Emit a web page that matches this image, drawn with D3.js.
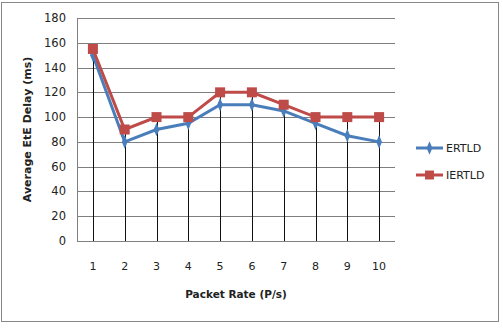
<!DOCTYPE html>
<html>
<head>
<meta charset="utf-8">
<script src="https://cdn.jsdelivr.net/npm/d3@7"></script>
<style>
  body { margin: 0; background: #fff; }
  text { font-family: "DejaVu Sans", Verdana, sans-serif; fill: #222; }
</style>
</head>
<body>
<div id="chart"></div>
<script>
// packet rate categories and series values (ms)
const categories = ["1", "2", "3", "4", "5", "6", "7", "8", "9", "10"];
const ertld = [150, 80, 90, 95, 110, 110, 105, 95, 85, 80];
const iertld = [155, 90, 100, 100, 120, 120, 110, 100, 100, 100];
const yTicks = [0, 20, 40, 60, 80, 100, 120, 140, 160, 180];

const width = 503, height = 328;
const margin = { left: 77, right: 108, top: 18, bottom: 87 };

const svg = d3.select("#chart").append("svg")
  .attr("width", width)
  .attr("height", height);

// chart frame
svg.append("rect")
  .attr("x", 1.5).attr("y", 2.5)
  .attr("width", 497).attr("height", 319)
  .attr("fill", "none")
  .attr("stroke", "#888");

const x = d3.scaleBand()
  .domain(categories)
  .range([margin.left, width - margin.right]);

const y = d3.scaleLinear()
  .domain([0, 180])
  .range([height - margin.bottom, margin.top]);

// horizontal gridlines
svg.append("g")
  .selectAll("line")
  .data(yTicks)
  .enter().append("line")
  .attr("x1", margin.left)
  .attr("x2", width - margin.right)
  .attr("y1", d => Math.round(y(d)) + 0.5)
  .attr("y2", d => Math.round(y(d)) + 0.5)
  .attr("stroke", "#7f7f7f")
  .attr("stroke-width", 1.2);

// left axis line
svg.append("line")
  .attr("x1", margin.left + 0.5).attr("x2", margin.left + 0.5)
  .attr("y1", y(180)).attr("y2", y(0))
  .attr("stroke", "#7f7f7f");

// y tick labels
svg.append("g")
  .attr("text-anchor", "end")
  .selectAll("text")
  .data(yTicks)
  .enter().append("text")
  .attr("x", 66)
  .attr("y", d => y(d))
  .attr("dy", "0.35em")
  .attr("font-size", 11.5)
  .text(d => d);

// drop lines
const cx = d => x(d) + x.bandwidth() / 2;
svg.append("g")
  .selectAll("line")
  .data(categories)
  .enter().append("line")
  .attr("x1", d => Math.round(cx(d)) + 0.5)
  .attr("x2", d => Math.round(cx(d)) + 0.5)
  .attr("y1", (d, i) => y(Math.max(ertld[i], iertld[i])))
  .attr("y2", y(0))
  .attr("stroke", "#111")
  .attr("stroke-width", 1);

// x tick labels
svg.append("g")
  .attr("text-anchor", "middle")
  .selectAll("text")
  .data(categories)
  .enter().append("text")
  .attr("x", d => cx(d))
  .attr("y", 270)
  .attr("font-size", 11)
  .text(d => d);

const line = d3.line()
  .x((d, i) => cx(categories[i]))
  .y(d => y(d));

const blue = "#4a7ebb", red = "#be4b48";

// ERTLD series
svg.append("path")
  .datum(ertld)
  .attr("d", line)
  .attr("fill", "none")
  .attr("stroke", blue)
  .attr("stroke-width", 3);

svg.append("g")
  .selectAll("path")
  .data(ertld)
  .enter().append("path")
  .attr("d", d3.symbol(d3.symbolDiamond, 45))
  .attr("transform", (d, i) => `translate(${cx(categories[i])},${y(d)}) scale(0.8,1.1)`)
  .attr("fill", blue);

// IERTLD series
svg.append("path")
  .datum(iertld)
  .attr("d", line)
  .attr("fill", "none")
  .attr("stroke", red)
  .attr("stroke-width", 3);

svg.append("g")
  .selectAll("rect")
  .data(iertld)
  .enter().append("rect")
  .attr("x", (d, i) => cx(categories[i]) - 5)
  .attr("y", d => y(d) - 5)
  .attr("width", 10)
  .attr("height", 10)
  .attr("fill", red);

// axis titles
svg.append("text")
  .attr("x", 236)
  .attr("y", 298)
  .attr("text-anchor", "middle")
  .attr("font-size", 10.5)
  .attr("font-weight", "bold")
  .text("Packet Rate (P/s)");

svg.append("text")
  .attr("transform", `translate(31,${(y(0) + y(180)) / 2}) rotate(-90)`)
  .attr("text-anchor", "middle")
  .attr("font-size", 11)
  .attr("font-weight", "bold")
  .text("Average EtE Delay (ms)");

// legend
const legend = svg.append("g")
  .selectAll("g")
  .data([{ name: "ERTLD", color: blue, shape: "diamond" }, { name: "IERTLD", color: red, shape: "square" }])
  .enter().append("g")
  .attr("transform", (d, i) => `translate(416,${148 + i * 27})`);

legend.append("line")
  .attr("x1", 0).attr("x2", 27)
  .attr("stroke", d => d.color)
  .attr("stroke-width", 3);

legend.append("path")
  .attr("d", d => d.shape === "diamond" ? d3.symbol(d3.symbolDiamond, 45)() : d3.symbol(d3.symbolSquare, 80)())
  .attr("transform", d => d.shape === "diamond" ? "translate(13.5,0) scale(0.8,1.1)" : "translate(13.5,0)")
  .attr("fill", d => d.color);

legend.append("text")
  .attr("x", 30)
  .attr("dy", "0.35em")
  .attr("font-size", 11)
  .text(d => d.name);
</script>
</body>
</html>
